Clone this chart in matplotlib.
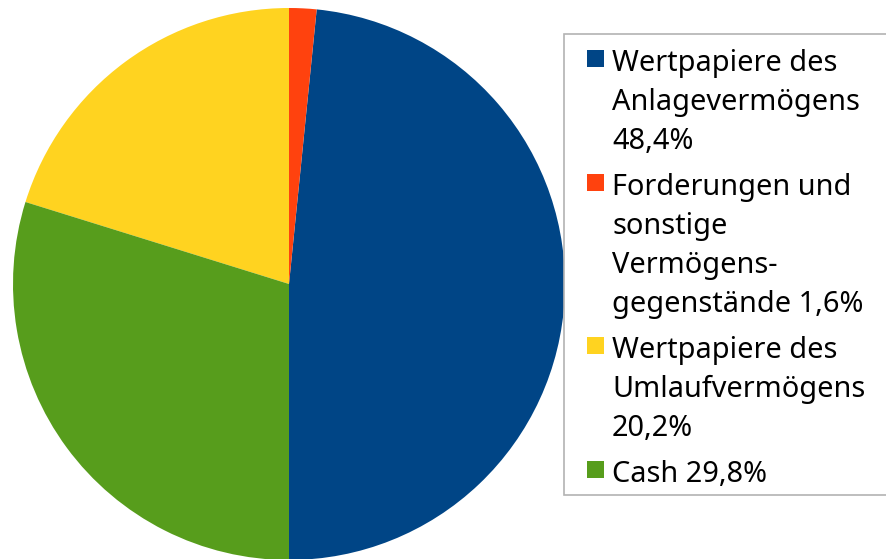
import matplotlib.pyplot as plt
from matplotlib.patches import Rectangle

labels = [
    "Wertpapiere des\nAnlagevermögens\n48,4%",
    "Forderungen und\nsonstige\nVermögens-\ngegenstände 1,6%",
    "Wertpapiere des\nUmlaufvermögens\n20,2%",
    "Cash 29,8%",
]
values = [48.4, 1.6, 20.2, 29.8]
colors = ["#004586", "#ff420e", "#ffd320", "#579d1c"]

W, H = 886, 559
fig = plt.figure(figsize=(W / 100, H / 100), dpi=100)

# pie: centre ~ (289, 284) px, radius ~ 276 px
r = 276
ax = fig.add_axes([(289 - r) / W, (H - 284 - r) / H, 2 * r / W, 2 * r / H])
ax.pie(values, colors=colors, startangle=-90, counterclock=True, radius=1,
       wedgeprops=dict(linewidth=0))
ax.set_xlim(-1, 1)
ax.set_ylim(-1, 1)
ax.set_aspect("equal")
ax.axis("off")

# legend drawn by hand so the swatch sits on the first line
fig.patches.append(Rectangle((564 / W, (H - 495) / H), (W + 5 - 564) / W, (495 - 34) / H,
                             transform=fig.transFigure, facecolor="white",
                             edgecolor="#b3b3b3", linewidth=1.2))
font = dict(family="Noto Sans", size=20.8, color="black")
line_h = 39
gap = 7
y = 71
for lab, c in zip(labels, colors):
    fig.patches.append(Rectangle((587 / W, (H - y + 4) / H), 17 / W, 17 / H,
                                 transform=fig.transFigure, facecolor=c, edgecolor="none"))
    for line in lab.split("\n"):
        fig.text(612 / W, (H - y) / H, line, va="baseline", ha="left", **font)
        y += line_h
    y += gap

fig.savefig("out.png", dpi=100)
